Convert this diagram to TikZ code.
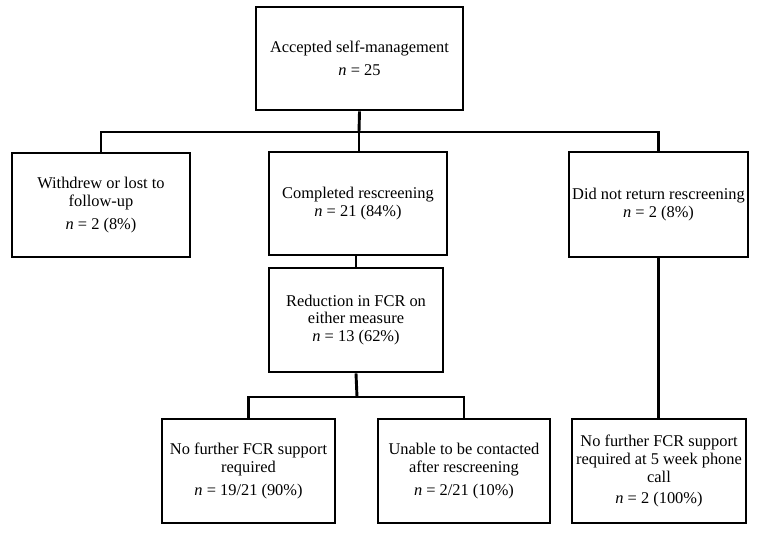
\documentclass[tikz,border=0pt]{standalone}
\usepackage{fontspec}
\setmainfont{Liberation Serif}
\usepackage{tikz}

\begin{document}
\begin{tikzpicture}[x=1pt, y=-1pt, line width=2.9pt,
  box/.style={draw, inner sep=0pt, align=center,
    font=\rmfamily\fontsize{16.4}{17.8}\selectfont},
  wide/.style={minimum width=#1pt},
  tall/.style={minimum height=#1pt}]
\useasboundingbox (0,0) rectangle (759,540);
\node[box, wide=207, tall=103] (top) at (359.5,58.5)
  {Accepted self-management\\[5pt] \textit{n}~=~25};
\node[box, wide=178, tall=104] (left) at (101,205)
  {Withdrew or lost to\\follow-up\\[5pt] \textit{n}~=~2 (8\%)};
\node[box, wide=178, tall=103] (mid) at (358,203.5)
  {Completed rescreening\\ \textit{n}~=~21 (84\%)};
\node[box, wide=179, tall=105] (right) at (658.5,204.5)
  {Did not return rescreening\\ \textit{n}~=~2 (8\%)};
\node[box, wide=174, tall=104] (red) at (356,320)
  {Reduction in FCR on\\either measure\\ \textit{n}~=~13 (62\%)};
\node[box, wide=173, tall=104] (bl) at (248.5,471)
  {No further FCR support\\required\\[5pt] \textit{n}~=~19/21 (90\%)};
\node[box, wide=172, tall=104] (bm) at (464,471)
  {Unable to be contacted\\after rescreening\\[5pt] \textit{n}~=~2/21 (10\%)};
\node[box, wide=174, tall=104] (br) at (659,471)
  {No further FCR support\\required at 5 week phone\\call\\[3pt] \textit{n}~=~2 (100\%)};
\coordinate (bus) at (359,132);
\coordinate (bus2) at (357,397);
\draw (top.south) -- (bus);
\draw (left.north) |- (bus) -| (right.north);
\draw (bus) -- (bus |- mid.north);
\draw (red.north |- mid.south) -- (red.north);
\draw (red.south) -- (bus2);
\draw (bl.north) |- (bus2) -| (bm.north);
\draw (right.south) -- (right.south |- br.north);
\end{tikzpicture}
\end{document}
